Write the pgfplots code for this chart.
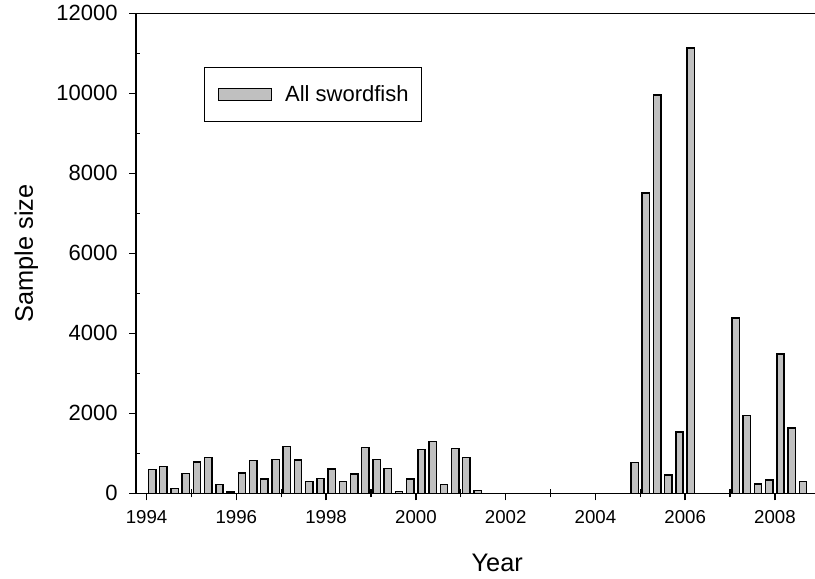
\documentclass[border=0pt]{standalone}
\usepackage{fontspec}
\setmainfont{Liberation Sans}
\usepackage{pgfplots}
\pgfplotsset{compat=1.18}
\definecolor{barfill}{RGB}{192,192,192}

\begin{document}
\begin{tikzpicture}
\useasboundingbox (0,0) rectangle (611.25pt,434.25pt);
\begin{axis}[
    at={(102pt,64.27pt)}, anchor=south west,
    scale only axis, width=509.25pt, height=360pt,
    xmin=1993.764, xmax=2008.893,
    ymin=0, ymax=12000,
    axis x line=box, axis y line=left,
    axis line style={-, line width=1.05pt},
    xtick={1994,1996,...,2008},
    ytick={0,2000,...,12000},
    extra x ticks={1995,1997,...,2007}, extra x tick labels={},
    extra x tick style={tick align=center, major tick length=6pt},
    extra y ticks={1000,3000,...,11000}, extra y tick labels={},
    extra y tick style={tick align=inside, major tick length=3pt},
    tick align=outside, major tick length=5.25pt,
    xtick pos=left, ytick pos=left,
    tick style={black, line width=1.05pt},
    scaled ticks=false,
    /pgf/number format/1000 sep={},
    /pgf/number format/assume math mode=true,
    xticklabel style={font=\fontsize{14}{16}\selectfont, yshift=-4pt},
    yticklabel style={font=\fontsize{16.5}{18}\selectfont, xshift=-5pt},
    xlabel={Year}, ylabel={Sample size},
    xlabel style={at={(axis description cs:0.532,0)}, anchor=north, yshift=-45pt, inner sep=0pt, font=\fontsize{19}{22}\selectfont},
    ylabel style={at={(axis description cs:-0.1439,0.5)}, anchor=south, inner sep=0pt, font=\fontsize{19}{22}\selectfont},
    legend image code/.code={\draw[#1] (0pt,-4.5pt) rectangle (39.75pt,4.5pt);},
    legend style={at={(axis description cs:0.1001,0.888)}, anchor=north west,
        draw=black, line width=1.05pt, fill=white,
        inner xsep=9.75pt, inner ysep=13.5pt, column sep=9.75pt,
        nodes={inner sep=0pt, font=\fontsize{16.5}{18}\selectfont}},
]
\addplot[ybar, bar width=5.5pt, fill=barfill, draw=black, line width=1.1pt]
coordinates {
(1994.125,600) (1994.375,675) (1994.625,125) (1994.875,500)
(1995.125,780) (1995.375,890) (1995.625,220) (1995.875,35)
(1996.125,510) (1996.375,825) (1996.625,360) (1996.875,840)
(1997.125,1175) (1997.375,835) (1997.625,300) (1997.875,375)
(1998.125,610) (1998.375,300) (1998.625,485) (1998.875,1150)
(1999.125,842) (1999.375,617) (1999.625,50) (1999.875,358)
(2000.125,1092) (2000.375,1292) (2000.625,225) (2000.875,1117)
(2001.125,900) (2001.375,75)
(2004.875,775)
(2005.125,7510) (2005.375,9960) (2005.625,460) (2005.875,1535)
(2006.125,11130)
(2007.125,4385) (2007.375,1945) (2007.625,235) (2007.875,335)
(2008.125,3485) (2008.375,1635) (2008.625,300)
};
\addlegendentry{All swordfish}
\end{axis}
\end{tikzpicture}
\end{document}
